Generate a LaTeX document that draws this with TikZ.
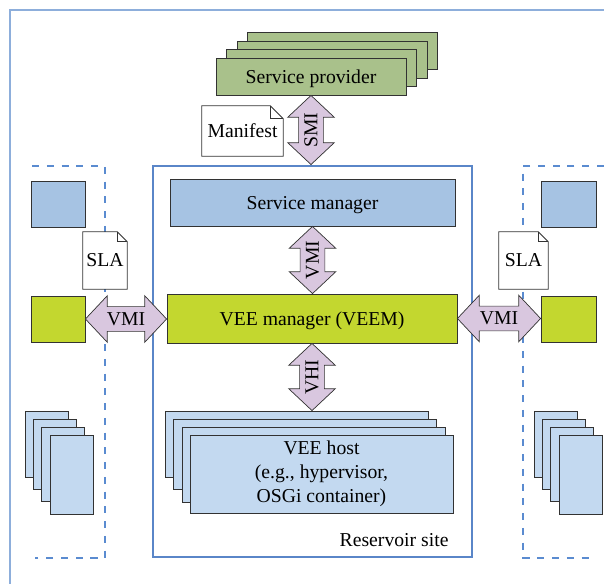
\documentclass[tikz,border=0pt]{standalone}
\usepackage{fontspec}
\setmainfont{Liberation Serif}
\usepackage{tikz}
\usetikzlibrary{positioning, calc}

\definecolor{provgreen}{RGB}{169,193,139}
\definecolor{veemgreen}{RGB}{195,215,47}
\definecolor{mgrblue}{RGB}{166,195,227}
\definecolor{hostblue}{RGB}{195,217,240}
\definecolor{ifacepurple}{RGB}{217,199,223}
\definecolor{siteblue}{RGB}{90,134,200}
\definecolor{zoneblue}{RGB}{90,139,208}
\definecolor{frameblue}{RGB}{141,174,219}
\definecolor{edgegray}{RGB}{50,50,50}

\tikzset{pxsize/.style 2 args={minimum width=(#1)*0.025cm, minimum height=(#2)*0.025cm}}

% fat interface arrow: head length, head half width, shaft half width
\newcommand{\ahl}{15.5pt}
\newcommand{\ahw}{16.5pt}
\newcommand{\asw}{8.8pt}
\newcommand{\ifacearrow}[5][]{%
    \draw[fat] (#2)
        -- ($(#2)!\ahl!(#3)!\ahw!90:(#3)$)
        -- ($(#2)!\ahl!(#3)!\asw!90:(#3)$)
        -- ($(#3)!\ahl!(#2)!\asw!-90:(#2)$)
        -- ($(#3)!\ahl!(#2)!\ahw!-90:(#2)$)
        -- (#3)
        -- ($(#3)!\ahl!(#2)!\ahw!90:(#2)$)
        -- ($(#3)!\ahl!(#2)!\asw!90:(#2)$)
        -- ($(#2)!\ahl!(#3)!\asw!-90:(#3)$)
        -- ($(#2)!\ahl!(#3)!\ahw!-90:(#3)$)
        -- cycle;
    \node[#1] (#5) at ($(#2)!0.5!(#3)$) {#4};}

\begin{document}
\begin{tikzpicture}[
    x=0.025cm, y=-0.025cm,
    font=\fontsize{14}{17}\selectfont,
    box/.style={rectangle, draw=edgegray, line width=0.6pt, inner sep=0pt, align=center},
    provbox/.style={box, fill=provgreen, text depth=0pt},
    mgrbox/.style={box, fill=mgrblue, text depth=0pt},
    veembox/.style={box, fill=veemgreen, text depth=0pt},
    hostbox/.style={box, fill=hostblue},
    docbox/.style={rectangle, fill=white, inner sep=0pt},
    docline/.style={draw=edgegray, line width=0.6pt},
    site/.style={rectangle, draw=siteblue, line width=2.1pt, inner sep=0pt},
    zone/.style={draw=zoneblue, line width=2.1pt, dash pattern=on 5pt off 5.5pt},
    fat/.style={draw=edgegray, fill=ifacepurple, line width=0.5pt, line join=miter}
]
    \useasboundingbox (0,0) rectangle (604,584);

    % Outer frame
    \draw[frameblue, line width=1.4pt] (10,584) -- (10,10) -- (604,10);

    % Neighbour sites (dashed)
    \draw[zone] (32,166) -| (105,558) -- (35,558);
    \draw[zone] (604,166) -| (523,558) -- (593,558);

    % Reservoir site
    \node[site, pxsize={319}{391}] (site) at (312.5,361.5) {};
    \node[anchor=base east] (sitelbl) at ($(site.south east)+(-20,-12)$) {Reservoir site};

    % Service provider stack
    \foreach \i in {3,2,1}
        \node[provbox, pxsize={190}{37}] (sp\i) at (311+10.5*\i, 76.5-8.5*\i) {};
    \node[provbox, pxsize={190}{37}] (sp) at (311,76.5) {Service provider};

    % Manifest and SLAs
    \node[docbox, pxsize={81}{50}] (manifest) at (242.5,131) {Manifest};
    \node[docbox, pxsize={44}{57}] (slaL) at (105,260.5) {SLA};
    \node[docbox, pxsize={49}{57}] (slaR) at (523.5,260.5) {SLA};
    \foreach \d/\f in {manifest/13, slaL/10, slaR/10} {
        \draw[docline] (\d.north west) -- ($(\d.north east)+(-\f,0)$)
            -- ($(\d.north east)+(0,\f)$) -- (\d.south east) -- (\d.south west) -- cycle;
        \draw[docline] ($(\d.north east)+(-\f,0)$) |- ($(\d.north east)+(0,\f)$);
    }

    % Managers
    \node[mgrbox, pxsize={285}{47}] (sm) at (312.5,202.5) {Service manager};
    \node[veembox, pxsize={290}{49}] (veem) at (312,318.5) {VEE manager (VEEM)};

    % VEE host stack
    \foreach \i/\cx/\cy/\h in {1/296.5/444/66, 2/305/454/70, 3/313.5/464.5/75}
        \node[hostbox, pxsize={263}{\h}] (host\i) at (\cx,\cy) {};
    \node[hostbox, pxsize={263}{78}] (host) at (321.5,474)
        {VEE host\\(e.g., hypervisor,\\OSGi container)};

    % Side boxes
    \node[mgrbox, pxsize={54}{46}] (lblue) at (58,204) {};
    \node[veembox, pxsize={54}{46}] (lgreen) at (58,319) {};
    \node[mgrbox, pxsize={55}{46}] (rblue) at (568.5,204) {};
    \node[veembox, pxsize={55}{46}] (rgreen) at (568.5,319) {};
    \foreach \i in {0,...,3} {
        \node[hostbox, pxsize={43}{66+4.3*\i}] (lstk\i) at (46.5+8.33*\i, 444+10.2*\i) {};
        \node[hostbox, pxsize={43}{66+4.3*\i}] (rstk\i) at (555.5+8.33*\i, 444+10.2*\i) {};
    }

    % Interfaces
    \ifacearrow[rotate=90]{sp.south}{sp.south |- site.north}{SMI}{smi}
    \ifacearrow[rotate=90]{sm.south}{sm.south |- veem.north}{VMI}{vmi}
    \ifacearrow[rotate=90]{veem.south}{veem.south |- host1.north}{VHI}{vhi}
    \ifacearrow{lgreen.east}{lgreen.east -| veem.west}{VMI}{vmiL}
    \ifacearrow{veem.east}{veem.east -| rgreen.west}{VMI}{vmiR}

\end{tikzpicture}
\end{document}
